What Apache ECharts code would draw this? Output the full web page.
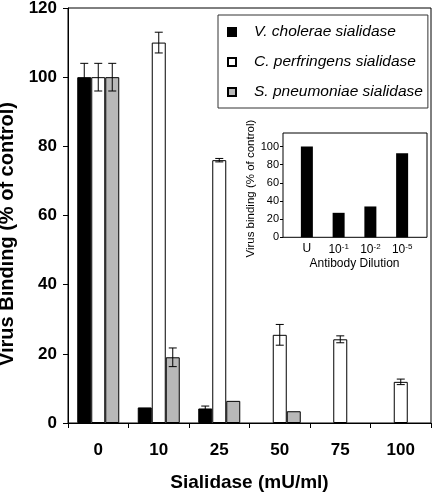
<!DOCTYPE html>
<html><head><meta charset="utf-8">
<script src="https://cdn.jsdelivr.net/npm/echarts@6/dist/echarts.min.js"></script>
<style>html,body{margin:0;padding:0;background:#fff}#c{width:435px;height:493px}</style>
</head><body><div id="c"></div>
<script>
// ---- data ----
var categories = ['0', '10', '25', '50', '75', '100'];
var seriesNames = ['V. cholerae sialidase', 'C. perfringens sialidase', 'S. pneumoniae sialidase'];
var vCholerae = [100, 4.5, 4.2, null, null, null];
var vCholeraeErr = [4, null, 0.7, null, null, null];
var cPerfringens = [100, 110, 76, 25.5, 24.2, 11.9];
var cPerfringensErr = [4, 3, 0.5, 3, 1, 0.8];
var sPneumoniae = [100, 19, 6.4, 3.4, null, null];
var sPneumoniaeErr = [4, 2.7, null, null, null, null];
var yTicks = [0, 20, 40, 60, 80, 100, 120];

var insetCategories = ['U', '10^-1', '10^-2', '10^-5'];
var insetValues = [100, 27, 34, 92.7];
var insetTicks = [0, 20, 40, 60, 80, 100];

var FONT = 'Liberation Sans, Arial, Helvetica, sans-serif';
var BAR_W = 14;

function errSeries(vals, errs, idx) {
  var data = [];
  for (var i = 0; i < vals.length; i++) {
    if (vals[i] != null && errs[i] != null) data.push([i, vals[i], errs[i]]);
  }
  return {
    type: 'custom', xAxisIndex: 0, yAxisIndex: 0, silent: true, z: 10,
    data: data,
    renderItem: function (params, api) {
      var x = api.value(0), v = api.value(1), e = api.value(2);
      var p = api.coord([x, v]);
      var hi = api.coord([x, v + e]);
      var lo = api.coord([x, v - e]);
      var cx = p[0] + (idx - 1) * BAR_W;
      var hw = 4;
      var st = { stroke: '#000', lineWidth: 1 };
      return { type: 'group', children: [
        { type: 'line', shape: { x1: cx, y1: hi[1], x2: cx, y2: lo[1] }, style: st },
        { type: 'line', shape: { x1: cx - hw, y1: hi[1], x2: cx + hw, y2: hi[1] }, style: st },
        { type: 'line', shape: { x1: cx - hw, y1: lo[1], x2: cx + hw, y2: lo[1] }, style: st }
      ]};
    }
  };
}

var chart = echarts.init(document.getElementById('c'), null, { renderer: 'canvas' });
var option = {
  backgroundColor: '#fff',
  animation: false,
  textStyle: { fontFamily: FONT },
  grid: [
    { left: 68, top: 8, width: 363, height: 415, outerBoundsMode: 'none', containLabel: false,
      show: true, borderColor: '#000', borderWidth: 1, backgroundColor: 'transparent' },
    { left: 291, top: 133, width: 127, height: 104.3, outerBoundsMode: 'none', containLabel: false }
  ],
  legend: {
    data: seriesNames,
    orient: 'vertical',
    left: 218, top: 15,
    padding: [9, 5, 8, 9],
    itemGap: 14,
    itemWidth: 8, itemHeight: 8,
    icon: 'rect',
    borderColor: '#333', borderWidth: 1,
    backgroundColor: '#fff',
    textStyle: { fontFamily: FONT, fontSize: 15.5, fontStyle: 'italic', color: '#000', padding: [0, 0, 0, 13] }
  },
  xAxis: [
    {
      type: 'category', gridIndex: 0, data: categories,
      name: 'Sialidase (mU/ml)', nameLocation: 'middle', nameGap: 50,
      nameTextStyle: { fontFamily: FONT, fontSize: 19, fontWeight: 'bold', color: '#000' },
      axisLine: { lineStyle: { color: '#000', width: 1 } },
      axisTick: { show: true, length: 5, lineStyle: { color: '#000' } },
      axisLabel: { margin: 19, fontFamily: FONT, fontSize: 17, fontWeight: 'bold', color: '#000' }
    },
    {
      type: 'category', gridIndex: 1, data: insetCategories,
      name: 'Antibody Dilution', nameLocation: 'middle', nameGap: 20,
      nameTextStyle: { fontFamily: FONT, fontSize: 12, color: '#000' },
      axisLine: { show: false }, axisTick: { show: false },
      axisLabel: {
        interval: 0,
        margin: 5, fontFamily: FONT, fontSize: 12, color: '#000',
        formatter: function (v) {
          var k = v.indexOf('^');
          if (k < 0) return v;
          return v.slice(0, k) + '{s|' + v.slice(k + 1) + '}';
        },
        rich: { s: { fontSize: 8, verticalAlign: 'top', padding: [0, 0, 6, 0], fontFamily: FONT, color: '#000' } }
      }
    }
  ],
  yAxis: [
    {
      type: 'value', gridIndex: 0, min: yTicks[0], max: yTicks[yTicks.length - 1], interval: yTicks[1] - yTicks[0],
      name: 'Virus Binding (% of control)', nameLocation: 'middle', nameGap: 47,
      nameTextStyle: { fontFamily: FONT, fontSize: 20, fontWeight: 'bold', color: '#000', padding: [0, 37, 0, 0] },
      axisLine: { show: true, lineStyle: { color: '#000', width: 1 } },
      axisTick: { show: true, length: 5, lineStyle: { color: '#000' } },
      splitLine: { show: false },
      axisLabel: { margin: 11, fontFamily: FONT, fontSize: 17, fontWeight: 'bold', color: '#000' }
    },
    {
      type: 'value', gridIndex: 1, min: insetTicks[0], max: 115, interval: insetTicks[1] - insetTicks[0],
      offset: 8,
      name: 'Virus binding (% of control)', nameLocation: 'middle', nameGap: 26,
      nameTextStyle: { fontFamily: FONT, fontSize: 11.5, color: '#000', padding: [0, 7, 0, 0] },
      axisLine: { show: false },
      axisTick: { show: true, length: 3, lineStyle: { color: '#000' } },
      splitLine: { show: false },
      axisLabel: { margin: 4, fontFamily: FONT, fontSize: 11, color: '#000', showMaxLabel: false }
    }
  ],
  graphic: [
    { type: 'rect', shape: { x: 283, y: 133, width: 144, height: 104.3 }, style: { fill: 'none', stroke: '#000', lineWidth: 1 }, z: 5 }
  ],
  series: [
    { name: seriesNames[0], type: 'bar', xAxisIndex: 0, yAxisIndex: 0, data: vCholerae, barWidth: BAR_W, barGap: '0%',
      itemStyle: { color: '#000', borderColor: '#000', borderWidth: 1 } },
    { name: seriesNames[1], type: 'bar', xAxisIndex: 0, yAxisIndex: 0, data: cPerfringens, barWidth: BAR_W, barGap: '0%',
      itemStyle: { color: '#fff', borderColor: '#000', borderWidth: 1 } },
    { name: seriesNames[2], type: 'bar', xAxisIndex: 0, yAxisIndex: 0, data: sPneumoniae, barWidth: BAR_W, barGap: '0%',
      itemStyle: { color: '#b8b8b8', borderColor: '#000', borderWidth: 1 } },
    errSeries(vCholerae, vCholeraeErr, 0),
    errSeries(cPerfringens, cPerfringensErr, 1),
    errSeries(sPneumoniae, sPneumoniaeErr, 2),
    { name: 'inset', type: 'bar', xAxisIndex: 1, yAxisIndex: 1, data: insetValues, barWidth: 12,
      itemStyle: { color: '#000' } }
  ]
};
chart.setOption(option);
</script>
</body></html>
